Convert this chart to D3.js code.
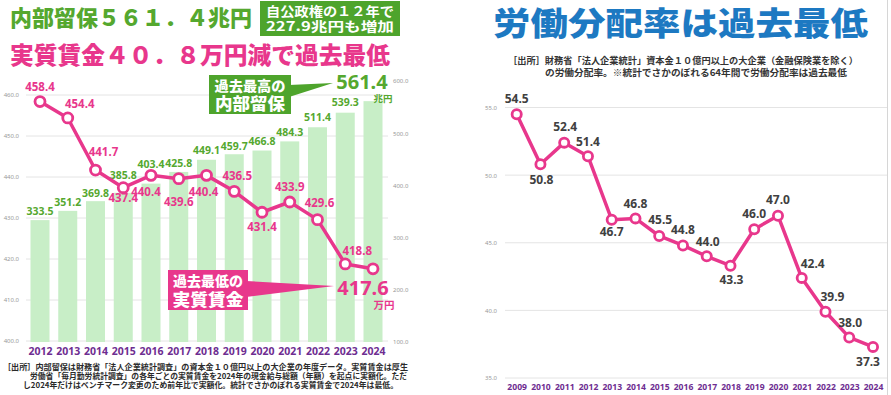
<!DOCTYPE html>
<html>
<head>
<meta charset="utf-8">
<script src="https://cdn.jsdelivr.net/npm/d3@7"></script>
<style>
  html, body { margin: 0; padding: 0; background: #fff; }
  svg { display: block; font-family: "Noto Sans CJK JP", "Noto Sans", sans-serif; }
</style>
</head>
<body>
<div id="chart"></div>
<script>
// Left chart: retained earnings (bars, right axis) and real wages (line, left axis)
const yearsL = [2012, 2013, 2014, 2015, 2016, 2017, 2018, 2019, 2020, 2021, 2022, 2023, 2024];
const retained = [333.5, 351.2, 369.8, 385.8, 403.4, 425.8, 449.1, 459.7, 466.8, 484.3, 511.4, 539.3, 561.4];
const wages = [458.4, 454.4, 441.7, 437.4, 440.4, 439.6, 440.4, 436.5, 431.4, 433.9, 429.6, 418.8, 417.6];
const wageTicks = [400, 410, 420, 430, 440, 450, 460];
const retainedTicks = [100, 200, 300, 400, 500, 600];

// Right chart: labour share
const yearsR = [2009, 2010, 2011, 2012, 2013, 2014, 2015, 2016, 2017, 2018, 2019, 2020, 2021, 2022, 2023, 2024];
const laborShare = [54.5, 50.8, 52.4, 51.4, 46.7, 46.8, 45.5, 44.8, 44.0, 43.3, 46.0, 47.0, 42.4, 39.9, 38.0, 37.3];
const shareTicks = [35, 40, 45, 50, 55];

// label nudges (layout only)
const wageLabelNudge = [[0,-15],[12,-14],[8,-18],[0,10],[-5,16],[0,23],[-3,16],[3,-15],[0,15],[0,-15],[2,-17],[12,-13],[-10,19]];
const barLabelNudge = [-9,-9,-8,-18,-19,-9,-10,-8,-9,-9,-10,-10,-19];
const shareLabelNudge = [[0,-16],[1,15],[1,-16],[0,-15],[0,12],[0,-15],[1,-16],[0,-16],[1,-15],[1,14],[0,-16],[0,-16],[11,-14],[7,-15],[1,-15],[-5,15]];

const PINK = "#e8378c", GREEN = "#55a82f", BOXGREEN = "#4ea42c", BAR = "#c8eec7",
      BLUE = "#1d79c2", PURPLE = "#6e2d91", GRID = "#e4e4e4";
const MID = "0.36em";

const W = 891, H = 395;
const svg = d3.select("#chart").append("svg")
  .attr("width", W).attr("height", H).attr("viewBox", [0, 0, W, H]);
svg.append("rect").attr("width", W).attr("height", H).attr("fill", "#fff");

// ---------- left chart ----------
const x = d3.scalePoint().domain(yearsL).range([40, 373]);
const yW = d3.scaleLinear().domain([400, 460]).range([341, 95]);
const yB = d3.scaleLinear().domain([100, 600]).range([342, 81]);
const barW = 19;

const left = svg.append("g");

left.append("g").selectAll("line").data(wageTicks).join("line")
  .attr("x1", 26).attr("x2", 388)
  .attr("y1", d => yW(d)).attr("y2", d => yW(d))
  .attr("stroke", GRID).attr("stroke-width", 1);

left.append("g").selectAll("rect").data(retained).join("rect")
  .attr("x", (d, i) => x(yearsL[i]) - barW / 2)
  .attr("width", barW)
  .attr("y", d => yB(d))
  .attr("height", d => yB(100) - yB(d))
  .attr("fill", BAR);

left.append("g").attr("transform", "translate(22,0)")
  .call(d3.axisLeft(yW).tickValues(wageTicks).tickFormat(d3.format(".1f")).tickSize(0).tickPadding(3))
  .call(g => g.select(".domain").remove())
  .call(g => g.selectAll("text").attr("font-size", 6).attr("fill", "#999").attr("font-family", "Noto Sans, sans-serif"));

left.append("g").attr("transform", "translate(390,0)")
  .call(d3.axisRight(yB).tickValues(retainedTicks).tickFormat(d3.format(".1f")).tickSize(0).tickPadding(3))
  .call(g => g.select(".domain").remove())
  .call(g => g.selectAll("text").attr("font-size", 6).attr("fill", "#999").attr("font-family", "Noto Sans, sans-serif"));

left.append("g").attr("transform", "translate(0,342)")
  .call(d3.axisBottom(x).tickSize(0).tickPadding(6).tickFormat(d3.format("d")))
  .call(g => g.select(".domain").remove())
  .call(g => g.selectAll("text").attr("font-size", 10.5).attr("font-weight", 700)
    .attr("fill", PURPLE).attr("font-family", "Noto Sans, sans-serif"));

// bar labels
left.append("g").selectAll("text").data(retained.slice(0, -1)).join("text")
  .attr("x", (d, i) => x(yearsL[i]))
  .attr("y", (d, i) => yB(d) + barLabelNudge[i])
  .attr("dy", MID).attr("text-anchor", "middle")
  .attr("font-size", 10.5).attr("font-weight", 700).attr("fill", GREEN)
  .attr("font-family", "Noto Sans, sans-serif")
  .text(d => d.toFixed(1));

// wage line
const wageLine = d3.line().x((d, i) => x(yearsL[i])).y(d => yW(d));
left.append("path").datum(wages)
  .attr("d", wageLine).attr("fill", "none")
  .attr("stroke", PINK).attr("stroke-width", 3.5).attr("stroke-linejoin", "round");
left.append("g").selectAll("circle").data(wages).join("circle")
  .attr("cx", (d, i) => x(yearsL[i])).attr("cy", d => yW(d)).attr("r", 5)
  .attr("fill", "#fff").attr("stroke", PINK).attr("stroke-width", 2.8);

left.append("g").selectAll("text").data(wages.slice(0, -1)).join("text")
  .attr("x", (d, i) => x(yearsL[i]) + wageLabelNudge[i][0])
  .attr("y", (d, i) => yW(d) + wageLabelNudge[i][1])
  .attr("dy", MID).attr("text-anchor", "middle")
  .attr("font-size", 11.5).attr("font-weight", 700).attr("fill", PINK)
  .attr("font-family", "Noto Sans, sans-serif")
  .text(d => d.toFixed(1));

// big end labels
const lastI = yearsL.length - 1;
const bx = x(yearsL[lastI]);
const byTop = yB(retained[lastI]);
left.append("text")
  .attr("x", bx - 11).attr("y", byTop + barLabelNudge[lastI])
  .attr("dy", MID).attr("text-anchor", "middle")
  .attr("font-size", 20).attr("font-weight", 700).attr("fill", GREEN)
  .attr("font-family", "Noto Sans, sans-serif")
  .text(retained[lastI].toFixed(1));
left.append("text")
  .attr("x", bx + 10).attr("y", byTop - 3)
  .attr("dy", MID).attr("text-anchor", "middle")
  .attr("font-size", 9.5).attr("font-weight", 700).attr("fill", GREEN)
  .text("兆円");

const wy = yW(wages[lastI]);
left.append("text")
  .attr("x", bx + wageLabelNudge[lastI][0]).attr("y", wy + wageLabelNudge[lastI][1])
  .attr("dy", MID).attr("text-anchor", "middle")
  .attr("font-size", 20).attr("font-weight", 700).attr("fill", PINK)
  .attr("font-family", "Noto Sans, sans-serif")
  .text(wages[lastI].toFixed(1));
left.append("text")
  .attr("x", bx + 11).attr("y", wy + 36)
  .attr("dy", MID).attr("text-anchor", "middle")
  .attr("font-size", 10.5).attr("font-weight", 700).attr("fill", PINK)
  .text("万円");

// callouts
function callout(g, color, box, tip, lines) {
  g.append("path")
    .attr("d", `M${box.x + box.w - 2},${box.ty0} L${tip[0]},${tip[1]} L${box.x + box.w - 2},${box.ty1} Z`)
    .attr("fill", color);
  g.append("rect").attr("x", box.x).attr("y", box.y).attr("width", box.w).attr("height", box.h)
    .attr("fill", color);
  lines.forEach(l => {
    g.append("text").attr("x", box.x + box.w / 2).attr("y", l.y).attr("dy", MID)
      .attr("text-anchor", "middle")
      .attr("font-size", l.size).attr("font-weight", 900).attr("fill", "#fff")
      .attr("textLength", l.len).attr("lengthAdjust", "spacingAndGlyphs")
      .text(l.t);
  });
}
callout(left, BOXGREEN, { x: 209, y: 75, w: 82, h: 39, ty0: 85, ty1: 97 }, [333, 83],
  [{ t: "過去最高の", y: 86, size: 13.5, len: 71 }, { t: "内部留保", y: 104, size: 16.5, len: 70 }]);
callout(left, PINK, { x: 168, y: 270, w: 80, h: 40, ty0: 281, ty1: 297 }, [334, 286],
  [{ t: "過去最低の", y: 281, size: 13.5, len: 70 }, { t: "実質賃金", y: 300, size: 17, len: 71 }]);

// headings
left.append("text").attr("x", 10).attr("y", 18).attr("dy", MID)
  .attr("font-size", 22).attr("font-weight", 900).attr("fill", GREEN)
  .attr("textLength", 242).attr("lengthAdjust", "spacingAndGlyphs")
  .text("内部留保５６１．４兆円");
left.append("rect").attr("x", 260).attr("y", 1).attr("width", 140).attr("height", 35).attr("fill", BOXGREEN);
left.append("text").attr("x", 330).attr("y", 11).attr("dy", MID).attr("text-anchor", "middle")
  .attr("font-size", 13).attr("font-weight", 700).attr("fill", "#fff")
  .attr("textLength", 128).attr("lengthAdjust", "spacingAndGlyphs")
  .text("自公政権の１２年で");
left.append("text").attr("x", 330).attr("y", 26.5).attr("dy", MID).attr("text-anchor", "middle")
  .attr("font-size", 13).attr("font-weight", 700).attr("fill", "#fff")
  .attr("textLength", 128).attr("lengthAdjust", "spacingAndGlyphs")
  .text("227.9兆円も増加");
left.append("text").attr("x", 10).attr("y", 55).attr("dy", MID)
  .attr("font-size", 24).attr("font-weight", 900).attr("fill", PINK)
  .attr("textLength", 380).attr("lengthAdjust", "spacingAndGlyphs")
  .text("実質賃金４０．８万円減で過去最低");

// footnote
const footL = [
  { t: "［出所］内部留保は財務省「法人企業統計調査」の資本金１０億円以上の大企業の年度データ。実質賃金は厚生", x: 3, y: 367, len: 405 },
  { t: "労働省「毎月勤労統計調査」の各年ごとの実質賃金を2024年の現金給与総額（年額）を起点に実額化。ただ", x: 30, y: 376, len: 377 },
  { t: "し2024年だけはベンチマーク変更のため前年比で実額化。統計でさかのぼれる実質賃金で2024年は最低。", x: 23, y: 385, len: 375 }
];
left.append("g").selectAll("text").data(footL).join("text")
  .attr("x", d => d.x).attr("y", d => d.y).attr("dy", MID)
  .attr("font-size", 7.8).attr("font-weight", 700).attr("fill", "#2a2a2a")
  .attr("textLength", d => d.len).attr("lengthAdjust", "spacingAndGlyphs")
  .text(d => d.t);

// ---------- right chart ----------
const right = svg.append("g");
const xR = d3.scalePoint().domain(yearsR).range([516.7, 873]);
const yR = d3.scaleLinear().domain([35, 55]).range([378, 107.5]);

right.append("line").attr("x1", 887.5).attr("x2", 887.5).attr("y1", 0).attr("y2", H)
  .attr("stroke", "#d6d6d6");

right.append("g").selectAll("line").data(shareTicks).join("line")
  .attr("x1", 505).attr("x2", 887)
  .attr("y1", d => yR(d)).attr("y2", d => yR(d))
  .attr("stroke", GRID).attr("stroke-width", 1);

right.append("g").attr("transform", "translate(500,0)")
  .call(d3.axisLeft(yR).tickValues(shareTicks).tickFormat(d3.format(".1f")).tickSize(0).tickPadding(3))
  .call(g => g.select(".domain").remove())
  .call(g => g.selectAll("text").attr("font-size", 6).attr("fill", "#999").attr("font-family", "Noto Sans, sans-serif"));

right.append("g").attr("transform", "translate(0,378)")
  .call(d3.axisBottom(xR).tickSize(0).tickPadding(5.5).tickFormat(d3.format("d")))
  .call(g => g.select(".domain").remove())
  .call(g => g.selectAll("text").attr("font-size", 8.6).attr("font-weight", 700)
    .attr("fill", PURPLE).attr("font-family", "Noto Sans, sans-serif"));

const shareLine = d3.line().x((d, i) => xR(yearsR[i])).y(d => yR(d));
right.append("path").datum(laborShare)
  .attr("d", shareLine).attr("fill", "none")
  .attr("stroke", PINK).attr("stroke-width", 3.5).attr("stroke-linejoin", "round");
right.append("g").selectAll("circle").data(laborShare).join("circle")
  .attr("cx", (d, i) => xR(yearsR[i])).attr("cy", d => yR(d)).attr("r", 4.6)
  .attr("fill", "#fff").attr("stroke", PINK).attr("stroke-width", 2.8);

right.append("g").selectAll("text").data(laborShare).join("text")
  .attr("x", (d, i) => xR(yearsR[i]) + shareLabelNudge[i][0])
  .attr("y", (d, i) => yR(d) + shareLabelNudge[i][1])
  .attr("dy", MID).attr("text-anchor", "middle")
  .attr("font-size", 12).attr("font-weight", 700).attr("fill", "#404040")
  .attr("font-family", "Noto Sans, sans-serif")
  .text(d => d.toFixed(1));

right.append("text").attr("x", 493).attr("y", 23).attr("dy", MID)
  .attr("font-size", 32).attr("font-weight", 900).attr("fill", BLUE)
  .attr("textLength", 375).attr("lengthAdjust", "spacingAndGlyphs")
  .text("労働分配率は過去最低");

right.append("text").attr("x", 508).attr("y", 61).attr("dy", MID)
  .attr("font-size", 9.2).attr("font-weight", 700).attr("fill", "#333")
  .attr("textLength", 350).attr("lengthAdjust", "spacingAndGlyphs")
  .text("［出所］財務省「法人企業統計」資本金１０億円以上の大企業（金融保険業を除く）");
right.append("text").attr("x", 545).attr("y", 73).attr("dy", MID)
  .attr("font-size", 9.2).attr("font-weight", 700).attr("fill", "#333")
  .attr("textLength", 302).attr("lengthAdjust", "spacingAndGlyphs")
  .text("の労働分配率。※統計でさかのぼれる64年間で労働分配率は過去最低");
</script>
</body>
</html>
